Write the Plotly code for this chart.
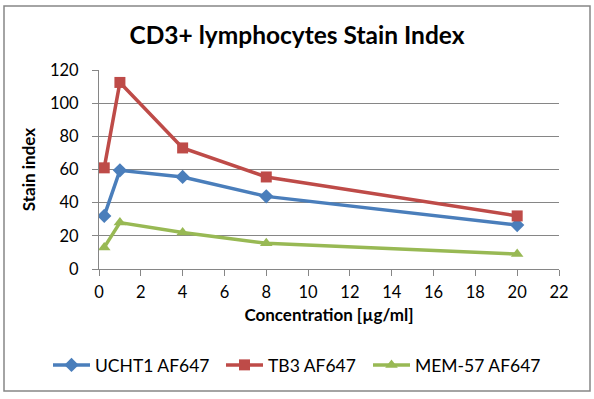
import plotly.graph_objects as go

conc = [0.25, 1, 4, 8, 20]
ucht1 = [32, 59.5, 55.5, 43.8, 26.5]
tb3 = [61, 112.5, 73, 55.5, 32]
mem57 = [13, 28, 22, 15.5, 9]

series_names = ["UCHT1 AF647", "TB3 AF647", "MEM-57 AF647"]
colors = ["#4A7EBB", "#BE4B48", "#98B954"]
symbols = ["diamond", "square", "triangle-up"]
msizes = [11, 11, 11]
legend_ids = ["legend", "legend2", "legend3"]
legend_left_px = [48, 221, 368]

FONT = "Lato, Carlito, Calibri, sans-serif"

fig = go.Figure()
for name, vals, c, s, ms, lg in zip(series_names, [ucht1, tb3, mem57], colors, symbols, msizes, legend_ids):
    fig.add_trace(go.Scatter(x=conc, y=vals, mode="lines+markers", name=name,
                             line=dict(color=c, width=3.5),
                             marker=dict(symbol=s, size=ms, color=c), legend=lg))

legend_common = dict(orientation="h", xanchor="left", y=(269 - 365) / 199,
                     yanchor="middle", itemwidth=37,
                     font=dict(size=17.5, family=FONT), bgcolor="rgba(0,0,0,0)")

fig.update_layout(
    width=594, height=399,
    margin=dict(l=99, r=35, t=70, b=130, autoexpand=False),
    paper_bgcolor="white", plot_bgcolor="white",
    font=dict(family=FONT, size=17, color="#000000"),
    title=dict(text="<b>CD3+ lymphocytes Stain Index</b>", x=0.5, xanchor="center",
               y=1 - 35 / 399, yanchor="middle", font=dict(size=24.5, family=FONT)),
    showlegend=True,
    legend=dict(x=(legend_left_px[0] - 99) / 460, **legend_common),
    legend2=dict(x=(legend_left_px[1] - 99) / 460, **legend_common),
    legend3=dict(x=(legend_left_px[2] - 99) / 460, **legend_common),
    xaxis=dict(range=[0, 22], dtick=2, tick0=0, showgrid=False, zeroline=False,
               showline=True, linecolor="#868686", linewidth=1,
               ticks="outside", ticklen=6, tickcolor="#868686",
               ticklabelstandoff=2,
               tickfont=dict(size=16.5),
               title=dict(text="<b>Concentration [µg/ml]</b>", font=dict(size=17), standoff=8)),
    yaxis=dict(range=[0, 120], dtick=20, tick0=0, showgrid=True, gridcolor="#868686",
               gridwidth=1, zeroline=False, showline=True, linecolor="#868686", linewidth=1,
               ticks="outside", ticklen=6, tickcolor="#868686",
               ticklabelstandoff=10,
               tickfont=dict(size=16.5),
               title=dict(text="<b>Stain index</b>", font=dict(size=17), standoff=10)),
    shapes=[dict(type="rect", xref="paper", yref="paper",
                 x0=(4 - 99) / 460, x1=(590 - 99) / 460,
                 y0=(269 - 391) / 199, y1=(269 - 6) / 199,
                 line=dict(color="#868686", width=1.5), layer="below")],
)

fig.write_html("out.html", config={"displayModeBar": False},
               post_script="document.body.style.margin='0';")
